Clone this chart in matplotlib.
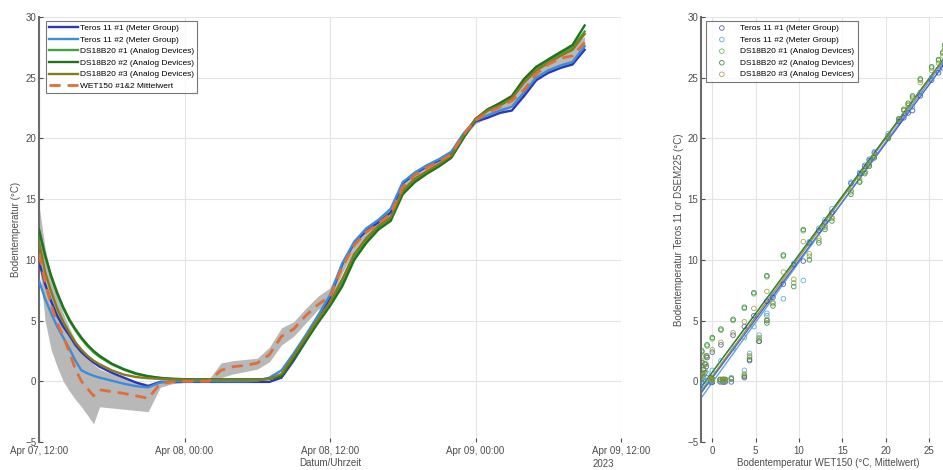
import numpy as np
import pandas as pd
import matplotlib
matplotlib.use("Agg")
import matplotlib.pyplot as plt
import matplotlib.dates as mdates

plt.rcParams['font.family'] = ['Liberation Sans', 'DejaVu Sans']

# ---------------- data (hours after 2023-04-07 12:00) ----------------
hours = [0, 0.5, 1, 1.5, 2, 2.5, 3, 3.5, 4, 4.5, 5, 6, 7, 8, 9, 10, 11, 12, 13, 14,
         15, 16, 17, 18, 19, 20, 21, 22, 23, 24, 25, 26, 27, 28, 29, 30, 31, 32, 33,
         34, 35, 36, 37, 38, 39, 40, 41, 42, 43, 44, 45]

teros1 = [9.9, 8.0, 6.6, 5.4, 4.5, 3.8, 3.0, 2.4, 1.95, 1.55, 1.2, 0.7, 0.3, -0.1, -0.4,
          -0.05, -0.05, -0.05, -0.05, -0.05, -0.05, -0.05, -0.05, -0.05, -0.05, 0.3, 1.7,
          3.3, 5.0, 6.9, 9.6, 11.4, 12.4, 13.1, 13.9, 16.3, 17.1, 17.7, 18.2, 18.8, 20.2,
          21.4, 21.7, 22.1, 22.3, 23.5, 24.8, 25.4, 25.8, 26.1, 27.3]
teros2 = [8.3, 6.8, 5.6, 4.5, 3.6, 2.7, 1.7, 0.9, 0.65, 0.45, 0.3, 0.05, -0.2, -0.4, -0.5,
          -0.1, 0.0, 0.0, 0.0, 0.0, 0.0, 0.0, 0.0, 0.05, 0.3, 0.9, 2.3, 3.8, 5.4, 7.1,
          9.7, 11.5, 12.6, 13.3, 14.2, 16.4, 17.2, 17.8, 18.3, 18.9, 20.4, 21.5, 21.9,
          22.3, 22.6, 23.8, 25.0, 25.6, 26.0, 26.3, 27.6]
ds1 = [12.4, 10.3, 8.6, 7.2, 6.0, 5.0, 4.2, 3.5, 2.9, 2.4, 2.0, 1.4, 0.95, 0.6, 0.4, 0.27,
       0.2, 0.17, 0.15, 0.15, 0.15, 0.15, 0.15, 0.15, 0.2, 0.5, 2.0, 3.5, 5.0, 6.4, 8.1,
       10.3, 11.6, 12.7, 13.4, 15.6, 16.5, 17.2, 17.8, 18.5, 20.1, 21.6, 22.3, 22.8,
       23.4, 24.8, 25.8, 26.4, 27.0, 27.5, 28.8]
ds2 = [12.5, 10.4, 8.7, 7.3, 6.1, 5.1, 4.3, 3.6, 3.0, 2.5, 2.1, 1.45, 1.0, 0.65, 0.42,
       0.28, 0.2, 0.17, 0.15, 0.15, 0.15, 0.15, 0.15, 0.15, 0.2, 0.4, 1.8, 3.3, 4.8, 6.2,
       7.8, 10.0, 11.4, 12.5, 13.2, 15.4, 16.4, 17.1, 17.7, 18.4, 20.0, 21.6, 22.4,
       22.9, 23.5, 24.9, 25.9, 26.5, 27.1, 27.7, 29.3]
ds3 = [11.5, 9.0, 7.4, 6.0, 4.9, 4.0, 3.2, 2.6, 2.1, 1.7, 1.4, 0.9, 0.55, 0.35, 0.25,
       0.2, 0.15, 0.12, 0.1, 0.1, 0.1, 0.1, 0.1, 0.1, 0.2, 0.6, 2.1, 3.6, 5.1, 6.5, 8.4,
       10.5, 11.8, 12.8, 13.5, 15.7, 16.7, 17.3, 17.9, 18.6, 20.2, 21.6, 22.3, 22.7,
       23.3, 24.6, 25.6, 26.2, 26.8, 27.3, 28.6]
wet_mean = [10.5, 8.2, 6.3, 4.8, 3.7, 2.4, 1.0, 0.0, -0.6, -1.2, -0.7, -0.85, -1.0, -1.2,
            -1.4, -0.2, -0.05, 0.0, 0.0, 0.0, 0.9, 1.2, 1.3, 1.5, 2.2, 3.7, 4.3, 5.4, 6.3,
            7.0, 9.4, 11.2, 12.3, 13.0, 13.8, 16.0, 17.0, 17.6, 18.1, 18.7, 20.3, 21.5,
            22.1, 22.6, 23.1, 24.0, 25.3, 26.1, 26.6, 26.8, 27.9]
wet_max = [14.5, 11.0, 8.7, 7.0, 5.6, 4.4, 3.4, 2.6, 2.0, 1.4, 1.0, 0.6, 0.3, 0.0, -0.2,
           0.1, 0.1, 0.1, 0.1, 0.15, 1.5, 1.7, 1.8, 1.9, 2.8, 4.4, 4.9, 6.0, 7.0, 7.7,
           9.9, 11.6, 12.6, 13.3, 14.1, 16.3, 17.3, 17.9, 18.4, 19.0, 20.6, 21.8, 22.5,
           23.1, 23.6, 24.6, 25.9, 26.7, 27.3, 27.6, 28.4]
wet_min = [10.0, 5.0, 2.6, 1.2, 0.0, -0.8, -1.5, -2.1, -2.8, -3.5, -2.1, -2.2, -2.3, -2.4,
           -2.5, -0.5, -0.2, -0.1, -0.1, -0.1, 0.3, 0.6, 0.8, 1.0, 1.6, 3.0, 3.7, 4.8, 5.9,
           6.5, 8.9, 10.8, 12.0, 12.7, 13.5, 15.7, 16.7, 17.3, 17.8, 18.4, 20.0, 21.2,
           21.7, 22.1, 22.6, 23.4, 24.7, 25.5, 25.9, 26.0, 27.4]

start = pd.Timestamp("2023-04-07 12:00")
times = start + pd.to_timedelta(hours, unit="h")

labels = ["Teros 11 #1 (Meter Group)", "Teros 11 #2 (Meter Group)",
          "DS18B20 #1 (Analog Devices)", "DS18B20 #2 (Analog Devices)",
          "DS18B20 #3 (Analog Devices)"]
series = [teros1, teros2, ds1, ds2, ds3]
colors = ["#2b36b8", "#3a8ddb", "#3fa33f", "#21731f", "#857b1c"]
scatter_colors = ["#3a46b0", "#4aa0d8", "#58b04a", "#2e7d32", "#9a9a3a"]

# ---------------- figure ----------------
W, H = 943, 470
fig = plt.figure(figsize=(W / 100, H / 100), dpi=100)

tick_col = "#4d4d4d"
spine_col = "#6b6b6b"

def px_axes(x0, x1, ytop, ybot):
    return [x0 / W, 1 - ybot / H, (x1 - x0) / W, (ybot - ytop) / H]

# ----- left: time series -----
ax1 = fig.add_axes(px_axes(39, 621, 17, 442))
ax1.fill_between(times, wet_min, wet_max, color="#b8b8b8", lw=0, zorder=1)
for vals, lab, c in zip(series, labels, colors):
    ax1.plot(times, vals, color=c, lw=1.7, label=lab, zorder=3)
ax1.plot(times, wet_mean, color="#de6f3a", lw=2.0, ls=(0, (4, 2.5)),
         label="WET150 #1&2 Mittelwert", zorder=4)

ax1.set_xlim(pd.Timestamp("2023-04-07 12:00"), pd.Timestamp("2023-04-09 12:00"))
ax1.set_ylim(-5, 30)
ax1.set_yticks(range(-5, 31, 5))
ax1.xaxis.set_major_locator(mdates.HourLocator(byhour=[0, 12]))
ax1.xaxis.set_major_formatter(mdates.DateFormatter("%b %d, %H:%M"))
ax1.set_xlabel("Datum/Uhrzeit", fontsize=7, color=tick_col, labelpad=1)
ax1.set_ylabel("Bodentemperatur (°C)", fontsize=7, color=tick_col, labelpad=3)
fig.text(593 / W, 1 - 464 / H, "2023", fontsize=7, color=tick_col, va="center", ha="left")

leg1 = ax1.legend(loc="upper left", bbox_to_anchor=(46 / W, 1 - 21 / H),
                  bbox_transform=fig.transFigure, fontsize=6, frameon=True,
                  fancybox=False, edgecolor="#555555", handlelength=3.4,
                  handletextpad=0.25, labelspacing=0.45, borderpad=0.4,
                  borderaxespad=0)
leg1.get_frame().set_linewidth(0.8)

# ----- right: scatter -----
ax2 = fig.add_axes(px_axes(701, 955, 17, 442))
xx = np.array(wet_mean)
for vals, lab, c in zip(series, labels, scatter_colors):
    ax2.scatter(xx, vals, s=11, facecolors="none", edgecolors=c, linewidths=0.6,
                alpha=0.85, label=lab, zorder=3)
xfit = np.array([-1.3, 28.0])
for vals, c in zip(series, colors):
    k, d = np.polyfit(xx, np.array(vals), 1)
    ax2.plot(xfit, k * xfit + d, color=c, lw=1.0, alpha=0.8, zorder=2)

ax2.set_xlim(-1.3, 28)
ax2.set_ylim(-5, 30)
ax2.set_xticks(range(0, 30, 5))
ax2.set_yticks(range(-5, 31, 5))
ax2.set_xlabel("Bodentemperatur WET150 (°C, Mittelwert)", fontsize=7, color=tick_col,
               labelpad=1)
ax2.set_ylabel("Bodentemperatur Teros 11 or DSEM225 (°C)", fontsize=7, color=tick_col,
               labelpad=2)
leg2 = ax2.legend(loc="upper left", bbox_to_anchor=(706 / W, 1 - 21 / H),
                  bbox_transform=fig.transFigure, fontsize=6, frameon=True,
                  fancybox=False, edgecolor="#555555", handlelength=3.0,
                  handletextpad=0.7, labelspacing=0.45, borderpad=0.4,
                  borderaxespad=0, scatterpoints=1)
leg2.get_frame().set_linewidth(0.8)

for ax in (ax1, ax2):
    ax.grid(True, color="#e4e4e4", lw=0.8)
    ax.set_axisbelow(True)
    for s in ("top", "right", "bottom"):
        ax.spines[s].set_visible(False)
    ax.spines["left"].set_color(spine_col)
    ax.spines["left"].set_linewidth(1.5)
    ax.tick_params(direction="in", length=3, width=0.8, colors=tick_col,
                   labelsize=7, pad=3)
    ax.tick_params(axis="y", pad=2)

fig.savefig("out.png", dpi=100)
